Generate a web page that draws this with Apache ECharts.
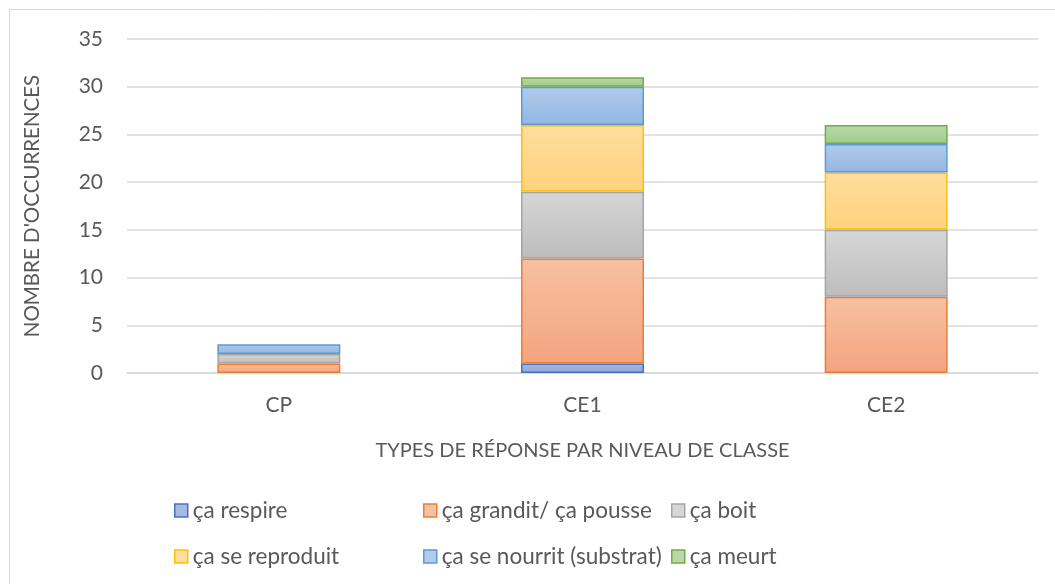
<!DOCTYPE html>
<html>
<head>
<meta charset="utf-8">
<script src="https://cdn.jsdelivr.net/npm/echarts@6/dist/echarts.min.js"></script>
<style>
  html, body { margin: 0; padding: 0; background: #fff; }
  #main { width: 1055px; height: 584px; }
</style>
</head>
<body>
<div id="main"></div>
<script>
(function(){

    // données
    var categories = ['CP', 'CE1', 'CE2'];
    var seriesNames = ['ça respire', 'ça grandit/ ça pousse', 'ça boit', 'ça se reproduit', 'ça se nourrit (substrat)', 'ça meurt'];
    var respire   = [0, 1, 0];
    var grandit   = [1, 11, 8];
    var boit      = [1, 7, 7];
    var reproduit = [0, 7, 6];
    var nourrit   = [1, 4, 3];
    var meurt     = [0, 1, 2];
    var values = [respire, grandit, boit, reproduit, nourrit, meurt];
    var yTicks = [0, 5, 10, 15, 20, 25, 30, 35];

    // couleurs façon Excel (bord, haut du dégradé, bas du dégradé)
    var styles = [
        ['#4472C4', '#A9B8E0', '#8FA6D9'],
        ['#ED7D31', '#F7C0A3', '#F4A47F'],
        ['#A5A5A5', '#D6D6D6', '#BDBDBD'],
        ['#FFC000', '#FFDE9E', '#FFD27E'],
        ['#5B9BD5', '#B0CBEB', '#93B6E1'],
        ['#70AD47', '#B8D8A8', '#A2CB8D']
    ];

    var legendPos = [
        {left: 174, top: 499}, {left: 423, top: 499}, {left: 671, top: 499},
        {left: 174, top: 545}, {left: 423, top: 545}, {left: 671, top: 545}
    ];

    var series = [];
    var legends = [];
    seriesNames.forEach(function (name, i) {
        var s = styles[i];
        series.push({
            name: name,
            type: 'bar',
            stack: 'total',
            barWidth: '40.5%',
            data: values[i].map(function (v) { return v === 0 ? '-' : v; }),
            itemStyle: {
                color: new echarts.graphic.LinearGradient(0, 0, 0, 1, [
                    {offset: 0, color: s[1]},
                    {offset: 1, color: s[2]}
                ]),
                borderColor: s[0],
                borderWidth: 1.5
            },
            emphasis: { disabled: true }
        });
        legends.push({
            data: [name],
            left: legendPos[i].left,
            top: legendPos[i].top,
            padding: 0,
            icon: 'rect',
            itemWidth: 13,
            itemHeight: 13,
            selectedMode: false,
            itemStyle: { color: s[1], borderColor: s[0], borderWidth: 1.5 },
            textStyle: { color: '#595959', fontSize: 22.5, fontFamily: 'Lato' }
        });
    });

    var myChart = echarts.init(document.getElementById('main'));

    var option = {
        animation: false,
        backgroundColor: '#fff',
        graphic: [{
            type: 'rect',
            shape: { x: 9.5, y: 9.5, width: 1060, height: 600 },
            style: { fill: 'none', stroke: '#D9D9D9', lineWidth: 1 },
            silent: true
        }],
        legend: legends,
        grid: {
            left: 127,
            right: 17,
            top: 39,
            bottom: 211
        },
        xAxis: {
            type: 'category',
            data: categories,
            name: 'TYPES DE RÉPONSE PAR NIVEAU DE CLASSE',
            nameLocation: 'middle',
            nameGap: 68,
            nameTextStyle: { color: '#595959', fontSize: 20, fontFamily: 'Lato' },
            axisTick: { show: false },
            axisLine: { lineStyle: { color: '#D9D9D9', width: 1.5 } },
            axisLabel: { color: '#595959', fontSize: 21, fontFamily: 'Lato', margin: 22 }
        },
        yAxis: {
            type: 'value',
            min: yTicks[0],
            max: yTicks[yTicks.length - 1],
            interval: 5,
            name: "NOMBRE D'OCCURRENCES",
            nameLocation: 'middle',
            nameGap: 84,
            nameRotate: 90,
            nameTextStyle: { color: '#595959', fontSize: 20.5, fontFamily: 'Lato' },
            axisLine: { show: false },
            axisTick: { show: false },
            splitLine: { lineStyle: { color: '#D9D9D9', width: 1.5 } },
            axisLabel: { color: '#595959', fontSize: 21, fontFamily: 'Lato', margin: 24 }
        },
        series: series
    };

    myChart.setOption(option);

})();
</script>
</body>
</html>
